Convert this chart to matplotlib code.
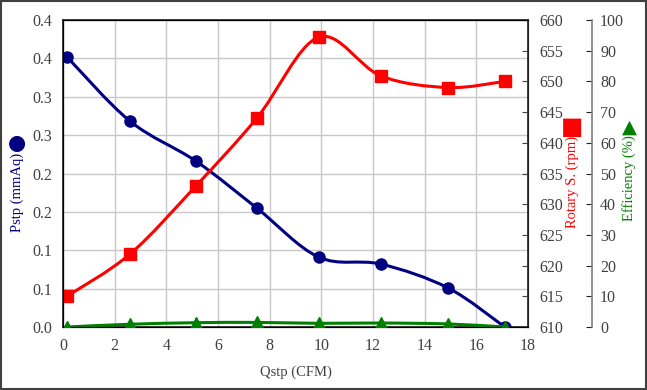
import matplotlib
matplotlib.use("Agg")
import matplotlib.pyplot as plt
import numpy as np
from matplotlib.path import Path
from matplotlib.patches import PathPatch, Rectangle

plt.rcParams['font.family'] = ['Liberation Serif', 'DejaVu Serif']

# data
q = [0.15, 2.6, 5.15, 7.5, 9.9, 12.3, 14.9, 17.1]
pstp = [0.352, 0.268, 0.216, 0.155, 0.091, 0.082, 0.051, 0.0]
q_eff = [0.15, 2.6, 5.15, 7.5, 9.9, 12.3, 14.9, 17.1]
rpm = [615.0, 621.9, 633.0, 644.0, 657.2, 650.9, 649.0, 650.0]
eff = [0.0, 0.9, 1.4, 1.5, 1.2, 1.3, 1.0, 0.0]

left_ticks = [0, 0.05, 0.10, 0.15, 0.20, 0.25, 0.30, 0.35, 0.40]
left_labels = ['0.0', '0.1', '0.1', '0.2', '0.2', '0.3', '0.3', '0.4', '0.4']

navy = '#000080'
red = '#FF0000'
green = '#008000'
tick_col = '#404040'


def smooth_line(ax, x, y, color):
    # excel-like smoothed line: catmull-rom segments as cubic beziers
    pts = np.column_stack([x, y]).astype(float)
    n = len(pts)
    verts = [pts[0]]
    codes = [Path.MOVETO]
    for i in range(n - 1):
        p0 = pts[max(i - 1, 0)]
        p3 = pts[min(i + 2, n - 1)]
        c1 = pts[i] + (pts[i + 1] - p0) / 6
        c2 = pts[i + 1] - (p3 - pts[i]) / 6
        verts += [c1, c2, pts[i + 1]]
        codes += [Path.CURVE4] * 3
    ax.add_patch(PathPatch(Path(verts, codes), fill=False, ec=color, lw=2.2))


fig = plt.figure(figsize=(6.47, 3.9), dpi=100)
ax = fig.add_axes([63 / 647, 63 / 390, 465 / 647, 307 / 390])

ax.set_xlim(0, 18)
ax.set_ylim(0, 0.40)
ax.set_xticks(range(0, 19, 2))
ax.set_yticks(left_ticks)
ax.set_yticklabels(left_labels)
ax.grid(True, color='#c8c8c8', lw=1)
ax.set_axisbelow(True)
ax.tick_params(length=0, labelsize=11.5, colors=tick_col, pad=8)
ax.set_xlabel('Qstp (CFM)', fontsize=10.5, color=tick_col, labelpad=8)
for s in ax.spines.values():
    s.set_color('#202020')
    s.set_linewidth(1.2)

smooth_line(ax, q, pstp, navy)
ax.plot(q, pstp, ls='none', marker='o', ms=8, color=navy, zorder=5)

ax2 = ax.twinx()
ax2.set_ylim(610, 660)
ax2.set_yticks(range(610, 661, 5))
ax2.tick_params(direction='in', length=4, labelsize=11.5, colors=tick_col, pad=8)
ax2.spines['right'].set_color('#202020')
smooth_line(ax2, q, rpm, red)
ax2.plot(q, rpm, ls='none', marker='s', ms=8.5, color=red, zorder=5)

ax3 = ax.twinx()
ax3.spines['right'].set_position(('axes', 1.137))
ax3.spines['right'].set_color('#808080')
ax3.spines['right'].set_linewidth(1.2)
ax3.set_ylim(0, 100)
ax3.set_yticks(range(0, 101, 10))
ax3.tick_params(direction='in', length=4, labelsize=11.5, colors=tick_col, pad=6)
ax3.tick_params(axis='y', color='#202020')
smooth_line(ax3, q_eff, eff, green)
ax3.plot(q_eff, eff, ls='none', marker='^', ms=8.5, color=green, zorder=5)

# axis titles with their symbols above them
fig.text(17 / 647, 1 - 192 / 390, 'Pstp (mmAq)', color=navy, fontsize=10.5,
         rotation=90, ha='center', va='center')
fig.text(572 / 647, 1 - 182 / 390, 'Rotary S. (rpm)', color=red, fontsize=10.5,
         rotation=90, ha='center', va='center')
fig.text(629 / 647, 1 - 178 / 390, 'Efficiency (%)', color=green, fontsize=10.5,
         rotation=90, ha='center', va='center')
fig.text(17 / 647, 1 - 143 / 390, '\u25CF', color=navy, fontsize=15,
         ha='center', va='center', family='DejaVu Sans')
fig.text(572 / 647, 1 - 127 / 390, '\u25A0', color=red, fontsize=17,
         ha='center', va='center', family='DejaVu Sans')
fig.text(629 / 647, 1 - 127 / 390, '\u25B2', color=green, fontsize=14,
         ha='center', va='center', family='DejaVu Sans')

fig.patches.append(Rectangle((0.002, 0.003), 0.996, 0.994, transform=fig.transFigure,
                             fill=False, ec='#404040', lw=1.5))

fig.savefig('out.png', dpi=100)
